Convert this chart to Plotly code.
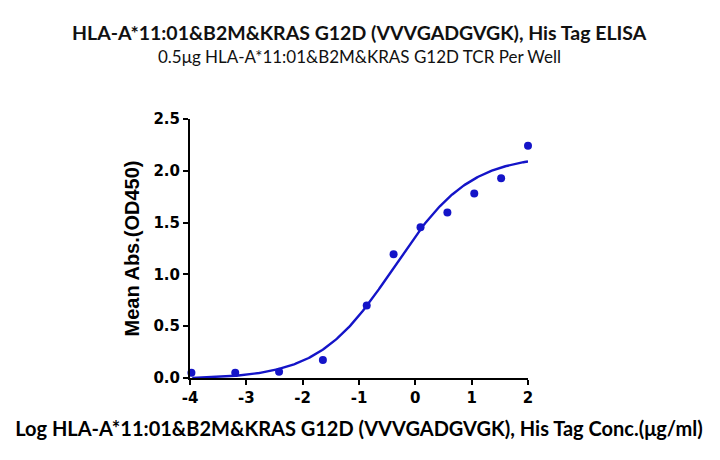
import numpy as np
import plotly.graph_objects as go

log_conc = [2.0, 1.523, 1.046, 0.569, 0.092, -0.386, -0.863, -1.641, -2.419, -3.197, -3.975]
od450 = [2.243, 1.928, 1.78, 1.597, 1.456, 1.195, 0.70, 0.174, 0.061, 0.051, 0.051]

# 4PL fit parameters
bottom, top, log_ec50, hill = -0.01, 2.15, -0.38, 0.65

xc = np.linspace(-4, 2, 300)
yc = bottom + (top - bottom) / (1 + 10 ** ((log_ec50 - xc) * hill))
mask = yc >= 0

blue = "#1414c8"
fig = go.Figure()
fig.add_trace(go.Scatter(x=xc[mask], y=yc[mask], mode="lines",
                         line=dict(color=blue, width=2.4), hoverinfo="skip", cliponaxis=False))
fig.add_trace(go.Scatter(x=log_conc, y=od450, mode="markers",
                         marker=dict(color=blue, size=8), cliponaxis=False))

fig.update_layout(
    width=720, height=460, showlegend=False,
    paper_bgcolor="white", plot_bgcolor="white",
    margin=dict(l=190, r=192, t=119, b=82),
)
fig.add_annotation(text="<b>HLA-A*11:01&B2M&KRAS G12D (VVVGADGVGK), His Tag ELISA</b>",
                   xref="paper", yref="paper", x=0.5, y=1, yshift=119 - 32,
                   showarrow=False, font=dict(family="Lato", size=19.5, color="#111"),
                   xanchor="center", yanchor="middle")
fig.add_annotation(text="0.5μg HLA-A*11:01&B2M&KRAS G12D TCR Per Well",
                   xref="paper", yref="paper", x=0.5, y=1, yshift=119 - 56,
                   showarrow=False, font=dict(family="Lato", size=17, color="#111"),
                   xanchor="center", yanchor="middle")

fig.update_xaxes(range=[-4, 2], tickvals=[-4, -3, -2, -1, 0, 1, 2],
                 ticktext=["<b>-4</b>", "<b>-3</b>", "<b>-2</b>", "<b>-1</b>", "<b>0</b>", "<b>1</b>", "<b>2</b>"],
                 showgrid=False, zeroline=False, showline=True, linecolor="black", linewidth=2,
                 ticks="outside", ticklen=5, tickwidth=2, tickcolor="black",
                 tickfont=dict(family="DejaVu Sans", size=15, color="black"),
                 title=dict(text="<b>Log HLA-A*11:01&B2M&KRAS G12D (VVVGADGVGK), His Tag Conc.(μg/ml)</b>",
                            font=dict(family="Lato", size=20, color="black"), standoff=16))
fig.update_yaxes(range=[0, 2.5], tickvals=[0, 0.5, 1.0, 1.5, 2.0, 2.5],
                 ticktext=["<b>0.0</b>", "<b>0.5</b>", "<b>1.0</b>", "<b>1.5</b>", "<b>2.0</b>", "<b>2.5</b>"],
                 showgrid=False, zeroline=False, showline=True, linecolor="black", linewidth=2,
                 ticks="outside", ticklen=5, tickwidth=2, tickcolor="black",
                 tickfont=dict(family="DejaVu Sans", size=15, color="black"),
                 title=dict(text="<b>Mean Abs.(OD450)</b>",
                            font=dict(family="Liberation Sans", size=20, color="black"), standoff=8))

fig.write_html("out.html")
